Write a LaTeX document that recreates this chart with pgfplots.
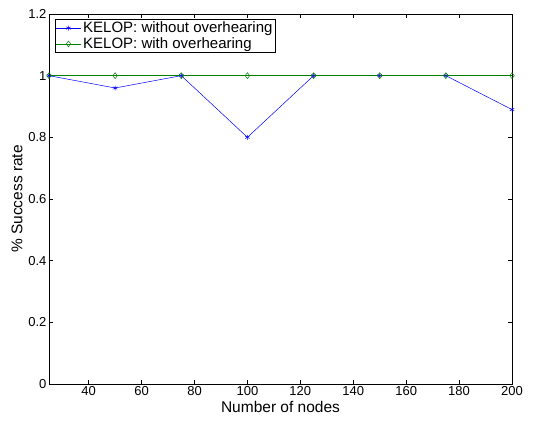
\documentclass[border=0pt]{standalone}
\usepackage{pgfplots}
\pgfplotsset{compat=1.18}
\usepackage{fontspec}
\setmainfont{Liberation Sans}
\definecolor{mgreen}{rgb}{0,0.5,0}
\begin{document}
\begin{tikzpicture}
\begin{axis}[name=ax,
  scale only axis, width=463pt, height=370pt,
  xmin=25, xmax=200, ymin=0, ymax=1.2,
  xtick={40,60,...,200}, ytick={0,0.2,...,1.2},
  tick align=inside, tick pos=both,
  major tick length=4pt,
  /pgf/number format/assume math mode=true,
  tick label style={font=\fontsize{13}{14}\selectfont},
  xticklabel style={yshift=1pt},
  yticklabel style={xshift=1pt},
  label style={font=\fontsize{15.5}{17}\selectfont},
  xlabel={Number of nodes}, ylabel={\% Success rate},
  xlabel style={yshift=1pt},
  ylabel style={yshift=-1pt},
  legend style={at={(0.013,0.986)}, anchor=north west, draw=black, font=\fontsize{15}{16}\selectfont, row sep=-0.5pt, inner sep=0.5pt},
  legend cell align=left,
  legend image code/.code={\draw[#1] (0pt,0pt) -- (25pt,0pt); \draw[#1, only marks] plot coordinates {(12.5pt,0pt)};},
  axis line style={black}, every tick/.style={black},
]
\addplot[blue, mark=asterisk, mark size=2.5pt, line width=0.5pt] coordinates {(25,1)(50,0.96)(75,1)(100,0.8)(125,1)(150,1)(175,1)(200,0.89)};
\addlegendentry{KELOP: without overhearing}
\addplot[mgreen, mark=diamond, mark size=3pt, line width=0.5pt] coordinates {(25,1)(50,1)(75,1)(100,1)(125,1)(150,1)(175,1)(200,1)};
\addlegendentry{KELOP: with overhearing}
\end{axis}
\path (ax.south west) ++(-49pt,-40pt) coordinate (a);
\path (ax.north east) ++(21pt,14pt) coordinate (b);
\path (a) rectangle (b);
\end{tikzpicture}
\end{document}
